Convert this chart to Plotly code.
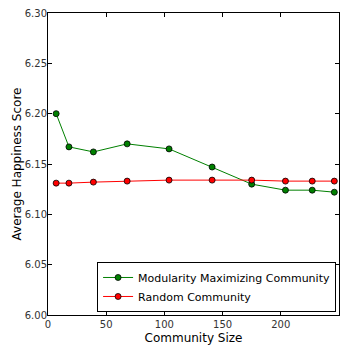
import plotly.graph_objects as go

# Community sizes and average happiness scores
community_size = [7, 18, 39, 68, 104, 141, 175, 204, 227, 246]
modularity_scores = [6.200, 6.167, 6.162, 6.170, 6.165, 6.147, 6.130, 6.124, 6.124, 6.122]
random_scores = [6.131, 6.131, 6.132, 6.133, 6.134, 6.134, 6.134, 6.133, 6.133, 6.133]

x_ticks = [0, 50, 100, 150, 200, 250]
y_ticks = [6.00, 6.05, 6.10, 6.15, 6.20, 6.25, 6.30]

font_family = "DejaVu Sans, Liberation Sans, sans-serif"

fig = go.Figure()
fig.add_trace(go.Scatter(
    x=community_size, y=modularity_scores, mode="lines+markers",
    name="Modularity Maximizing Community",
    line=dict(color="#008000", width=1),
    marker=dict(color="#008000", size=6, line=dict(color="black", width=0.8)),
))
fig.add_trace(go.Scatter(
    x=community_size, y=random_scores, mode="lines+markers",
    name="Random Community",
    line=dict(color="#ff0000", width=1),
    marker=dict(color="#ff0000", size=6, line=dict(color="black", width=0.8)),
))

axis_common = dict(
    showline=True, linecolor="black", linewidth=1, mirror="ticks",
    ticks="inside", ticklen=4, tickcolor="black", showgrid=False, zeroline=False,
    tickfont=dict(family=font_family, size=10, color="#333"),
    automargin=False,
)

fig.update_layout(
    width=346, height=345,
    margin=dict(l=48, r=7, t=13, b=30),
    paper_bgcolor="white", plot_bgcolor="white",
    font=dict(family=font_family, color="black"),
    showlegend=True,
    legend=dict(
        x=0.99, y=0.01, xanchor="right", yanchor="bottom",
        bordercolor="black", borderwidth=1, bgcolor="white",
        font=dict(family=font_family, size=11),
        tracegroupgap=0, itemwidth=30,
    ),
    xaxis=dict(
        range=[0, 250], tickvals=x_ticks, ticktext=[str(v) for v in x_ticks],
        title=dict(text="Community Size", font=dict(size=12), standoff=6),
        **axis_common,
    ),
    yaxis=dict(
        range=[6.00, 6.30], tickvals=y_ticks, ticktext=[f"{v:.2f}" for v in y_ticks],
        title=dict(text="Average Happiness Score", font=dict(size=12), standoff=0),
        ticklabelstandoff=-2,
        **axis_common,
    ),
)

fig.write_html("out.html")
